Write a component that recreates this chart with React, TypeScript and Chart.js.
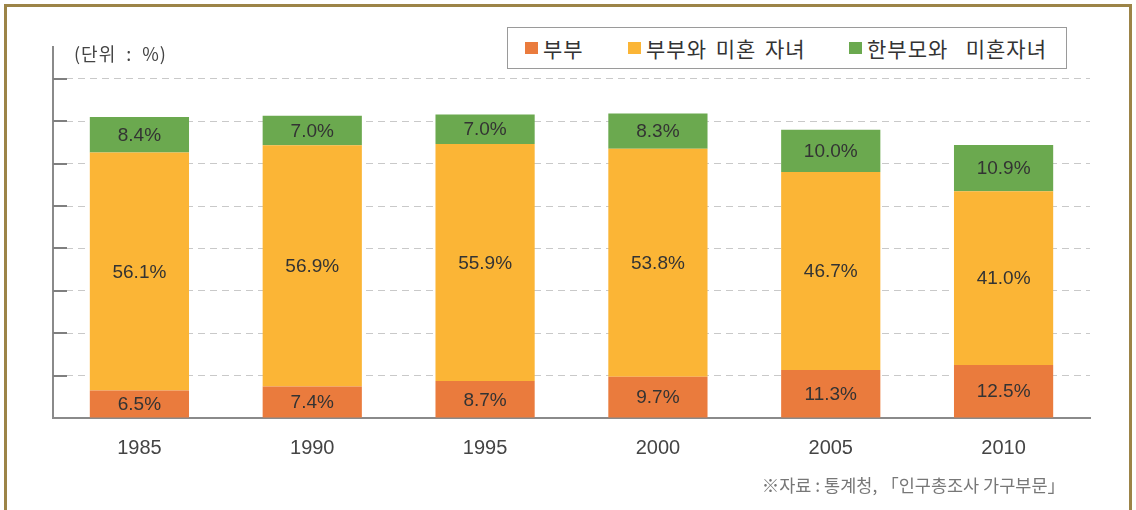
import React, { useEffect, useRef } from "react";
import { Chart, registerables } from "chart.js";

Chart.register(...registerables);

const years = ["1985", "1990", "1995", "2000", "2005", "2010"];
const couple = [6.5, 7.4, 8.7, 9.7, 11.3, 12.5];
const coupleWithChildren = [56.1, 56.9, 55.9, 53.8, 46.7, 41.0];
const singleParent = [8.4, 7.0, 7.0, 8.3, 10.0, 10.9];
const seriesNames = ["부부", "부부와 미혼 자녀", "한부모와  미혼자녀"];
const yTicks = [0, 10, 20, 30, 40, 50, 60, 70, 80];

const COLORS = ["#EA7B3D", "#FBB536", "#6BA94F"];
const FONT = "'Liberation Sans', 'Noto Sans CJK KR', sans-serif";
const KFONT = "'Noto Sans CJK KR', 'Liberation Sans', sans-serif";

const valueLabels = {
  id: "valueLabels",
  afterDatasetsDraw(chart: any) {
    const ctx = chart.ctx;
    ctx.save();
    ctx.font = `19px ${FONT}`;
    ctx.fillStyle = "#333333";
    ctx.textAlign = "center";
    ctx.textBaseline = "middle";
    chart.data.datasets.forEach((ds: any, i: number) => {
      const meta = chart.getDatasetMeta(i);
      meta.data.forEach((bar: any, j: number) => {
        const v = ds.data[j];
        const y = (bar.y + bar.base) / 2;
        ctx.fillText(v.toFixed(1) + "%", bar.x, y + 1);
      });
    });
    ctx.restore();
  },
};

const innerTicks = {
  id: "innerTicks",
  beforeDatasetsDraw(chart: any) {
    const ctx = chart.ctx;
    const y = chart.scales.y;
    const left = chart.chartArea.left;
    ctx.save();
    ctx.strokeStyle = "#7f7f7f";
    ctx.lineWidth = 2;
    yTicks.forEach((t) => {
      if (t === 0) return;
      const py = Math.round(y.getPixelForValue(t));
      ctx.beginPath();
      ctx.moveTo(left, py);
      ctx.lineTo(left + 14, py);
      ctx.stroke();
    });
    ctx.restore();
  },
};

export default function App() {
  const ref = useRef<HTMLCanvasElement | null>(null);

  useEffect(() => {
    if (!ref.current) return;
    const chart = new Chart(ref.current, {
      type: "bar",
      data: {
        labels: years,
        datasets: [couple, coupleWithChildren, singleParent].map((d, i) => ({
          label: seriesNames[i],
          data: d,
          backgroundColor: COLORS[i],
          borderWidth: 0,
          barPercentage: 0.574,
          categoryPercentage: 1,
        })),
      },
      options: {
        animation: false,
        responsive: false,
        maintainAspectRatio: false,
        layout: { padding: { left: 53, right: 46, top: 47, bottom: 0 } },
        plugins: {
          legend: { display: false },
          tooltip: { enabled: false },
        },
        scales: {
          x: {
            stacked: true,
            grid: { display: false, drawTicks: false },
            border: { display: true, color: "#8a8a8a", width: 2 },
            ticks: {
              padding: 18,
              color: "#444444",
              font: { family: FONT, size: 20 },
            },
            afterFit(scale: any) {
              scale.height = 92;
            },
          },
          y: {
            stacked: true,
            min: 0,
            max: 87.5,
            afterBuildTicks(scale: any) {
              scale.ticks = yTicks.map((v) => ({ value: v }));
            },
            afterFit(scale: any) {
              scale.width = 0;
            },
            ticks: { display: false },
            grid: {
              drawTicks: false,
              color: "#c9c9c9",
              lineWidth: 1,
            },
            border: { display: true, color: "#8a8a8a", width: 2, dash: [7, 5] },
          },
        },
      },
      plugins: [valueLabels, innerTicks],
    });
    return () => chart.destroy();
  }, []);

  return (
    <div
      style={{
        position: "fixed",
        left: 0,
        top: 0,
        width: 1136,
        height: 510,
        background: "#ffffff",
        overflow: "hidden",
        fontFamily: KFONT,
      }}
    >
      <div
        style={{
          position: "absolute",
          left: 4,
          top: 4,
          width: 1128,
          height: 520,
          borderLeft: "3px solid #9C8447",
          borderTop: "3px solid #9C8447",
          borderRight: "3px solid #9C8447",
          boxSizing: "border-box",
        }}
      />
      <canvas ref={ref} width={1136} height={510} style={{ position: "absolute", left: 0, top: 0 }} />
      <div
        style={{
          position: "absolute",
          left: 74,
          top: 40,
          fontSize: 18,
          lineHeight: "26px",
          letterSpacing: 1,
          wordSpacing: 5,
          color: "#444",
          whiteSpace: "pre",
        }}
      >
        (단위 : %)
      </div>
      <div
        style={{
          position: "absolute",
          left: 507,
          top: 27,
          width: 560,
          height: 42,
          border: "1px solid #9a9a9a",
          boxSizing: "border-box",
          background: "#fff",
          fontSize: 21,
          color: "#333",
          whiteSpace: "pre",
          letterSpacing: 1,
          wordSpacing: 3,
        }}
      >
        {seriesNames.map((n, i) => (
          <div
            key={n}
            style={{
              position: "absolute",
              left: [17, 120, 341][i],
              top: 0,
              height: 40,
              display: "flex",
              alignItems: "center",
            }}
          >
            <span style={{ display: "inline-block", width: 13, height: 12, background: COLORS[i], marginRight: 5 }} />
            <span style={{ lineHeight: "40px" }}>{n}</span>
          </div>
        ))}
      </div>
      <div
        style={{
          position: "absolute",
          right: 71,
          top: 473,
          fontSize: 17.5,
          lineHeight: "24px",
          color: "#777",
          whiteSpace: "pre",
        }}
      >
        ※자료 : 통계청, 「인구총조사 가구부문」
      </div>
    </div>
  );
}
